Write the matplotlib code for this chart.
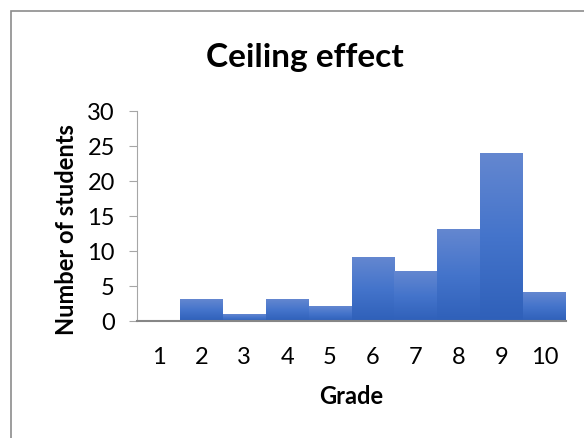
import numpy as np
import matplotlib
matplotlib.use("Agg")
import matplotlib.pyplot as plt
from matplotlib.patches import Rectangle
from matplotlib.colors import LinearSegmentedColormap

plt.rcParams['font.family'] = ['Lato', 'DejaVu Sans']

grades = [1, 2, 3, 4, 5, 6, 7, 8, 9, 10]
students = [0, 3, 1, 3, 2, 9, 7, 13, 24, 4]
y_ticks = [0, 5, 10, 15, 20, 25, 30]

W, H = 584, 439
fig = plt.figure(figsize=(W / 100, H / 100), dpi=100)

# chart frame (runs off the right and bottom edges)
fig.patches.append(Rectangle((11 / W, -0.1), 1.2, 1 - 12 / H + 0.1,
                             transform=fig.transFigure, fill=False,
                             edgecolor='#8c8c8c', linewidth=1.2))

ax = fig.add_axes([137 / W, (H - 322) / H, (566 - 137) / W, (322 - 112) / H])

bars = ax.bar(grades, students, width=1.0, facecolor='none', edgecolor='none')

# vertical gradient inside each bar, lighter at the top
blue = LinearSegmentedColormap.from_list('blue', ['#2f60b9', '#4474cb', '#6487d0'])
grad = np.linspace(0, 1, 256).reshape(-1, 1)
for b in bars:
    h = b.get_height()
    if h <= 0:
        continue
    x0 = b.get_x()
    ax.imshow(grad, extent=(x0, x0 + b.get_width(), 0, h), origin='lower',
              cmap=blue, aspect='auto', interpolation='bicubic', zorder=2)

ax.set_xlim(0.5, 10.5)
ax.set_ylim(0, 30)
ax.set_xticks(grades)
ax.set_yticks(y_ticks)

for s in ['top', 'right']:
    ax.spines[s].set_visible(False)
ax.spines['left'].set_color('#a6a6a6')
ax.spines['bottom'].set_color('#868686')
ax.spines['bottom'].set_linewidth(1.5)
ax.spines['bottom'].set_zorder(3)

ax.tick_params(axis='y', length=6, color='#a6a6a6', labelsize=17, pad=10)
ax.tick_params(axis='x', length=0, labelsize=17, pad=18)

fig.text(351 / W, 1 - 397 / H, 'Grade', fontsize=17, fontweight='bold',
         ha='center', va='center')
fig.text(66 / W, 1 - 230 / H, 'Number of students', fontsize=17,
         fontweight='bold', rotation=90, ha='center', va='center')
fig.text(305 / W, 1 - 57 / H, 'Ceiling effect', fontsize=24, fontweight='bold',
         ha='center', va='center')

fig.savefig('out.png', dpi=100)
